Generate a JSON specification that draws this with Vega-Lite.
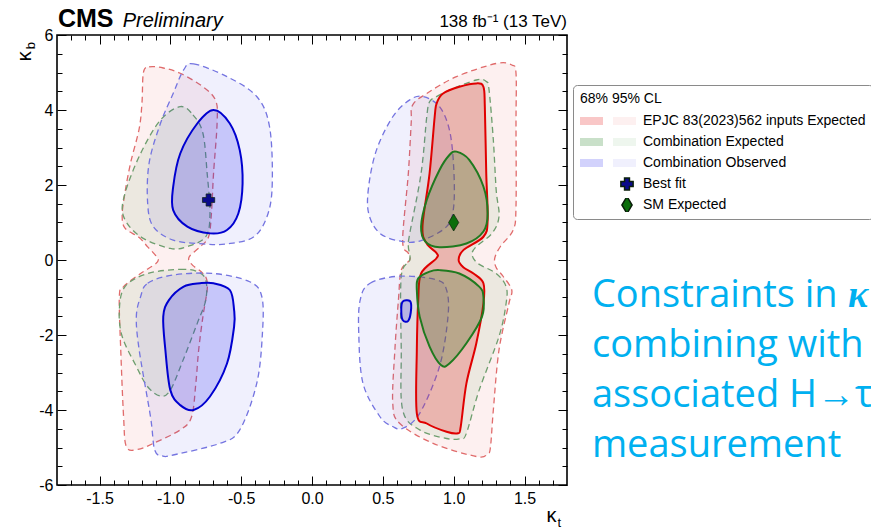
{
  "$schema": "https://vega.github.io/schema/vega-lite/v6.json",
  "width": 510,
  "height": 450,
  "autosize": {"type": "none"},
  "padding": {"left": 57, "top": 35, "right": 304, "bottom": 47},
  "background": "white",
  "config": {
    "view": {"stroke": "black", "strokeWidth": 1.6},
    "font": "Liberation Sans",
    "axis": {"grid": false, "domain": false, "labelFont": "Liberation Sans", "labelFontSize": 16, "labelColor": "black", "tickColor": "black", "tickWidth": 1, "labelFlush": false, "labelOverlap": false, "zindex": 1}
  },
  "datasets": {
    "c95": [
      {"p":"R95L","s":"R","i":1,"kt":-1.19,"kb":5.0},{"p":"R95L","s":"R","i":2,"kt":-1.15,"kb":5.15},{"p":"R95L","s":"R","i":3,"kt":-1.05,"kb":5.12},{"p":"R95L","s":"R","i":4,"kt":-0.93,"kb":4.98},{"p":"R95L","s":"R","i":5,"kt":-0.77,"kb":4.62},{"p":"R95L","s":"R","i":6,"kt":-0.68,"kb":4.25},{"p":"R95L","s":"R","i":7,"kt":-0.67,"kb":3.64},{"p":"R95L","s":"R","i":8,"kt":-0.695,"kb":2.31},{"p":"R95L","s":"R","i":9,"kt":-0.71,"kb":1.24},{"p":"R95L","s":"R","i":10,"kt":-0.73,"kb":0.62},{"p":"R95L","s":"R","i":11,"kt":-0.79,"kb":0.35},{"p":"R95L","s":"R","i":12,"kt":-0.86,"kb":0.12},{"p":"R95L","s":"R","i":13,"kt":-0.87,"kb":0.0},{"p":"R95L","s":"R","i":14,"kt":-0.84,"kb":-0.15},{"p":"R95L","s":"R","i":15,"kt":-0.78,"kb":-0.32},{"p":"R95L","s":"R","i":16,"kt":-0.745,"kb":-0.5},{"p":"R95L","s":"R","i":17,"kt":-0.74,"kb":-0.8},{"p":"R95L","s":"R","i":18,"kt":-0.77,"kb":-1.51},{"p":"R95L","s":"R","i":19,"kt":-0.8,"kb":-2.4},{"p":"R95L","s":"R","i":20,"kt":-0.82,"kb":-3.29},{"p":"R95L","s":"R","i":21,"kt":-0.85,"kb":-4.18},{"p":"R95L","s":"R","i":22,"kt":-0.93,"kb":-4.53},{"p":"R95L","s":"R","i":23,"kt":-1.12,"kb":-4.89},{"p":"R95L","s":"R","i":24,"kt":-1.23,"kb":-5.05},{"p":"R95L","s":"R","i":25,"kt":-1.31,"kb":-4.98},{"p":"R95L","s":"R","i":26,"kt":-1.33,"kb":-4.18},{"p":"R95L","s":"R","i":27,"kt":-1.35,"kb":-2.4},{"p":"R95L","s":"R","i":28,"kt":-1.36,"kb":-0.98},{"p":"R95L","s":"R","i":29,"kt":-1.33,"kb":-0.71},{"p":"R95L","s":"R","i":30,"kt":-1.21,"kb":-0.36},{"p":"R95L","s":"R","i":31,"kt":-1.11,"kb":-0.12},{"p":"R95L","s":"R","i":32,"kt":-1.085,"kb":0.0},{"p":"R95L","s":"R","i":33,"kt":-1.11,"kb":0.15},{"p":"R95L","s":"R","i":34,"kt":-1.16,"kb":0.35},{"p":"R95L","s":"R","i":35,"kt":-1.22,"kb":0.6},{"p":"R95L","s":"R","i":36,"kt":-1.32,"kb":0.85},{"p":"R95L","s":"R","i":37,"kt":-1.34,"kb":1.2},{"p":"R95L","s":"R","i":38,"kt":-1.32,"kb":1.8},{"p":"R95L","s":"R","i":39,"kt":-1.28,"kb":2.6},{"p":"R95L","s":"R","i":40,"kt":-1.22,"kb":3.5},{"p":"R95L","s":"R","i":41,"kt":-1.2,"kb":4.2},
      {"p":"R95R","s":"R","i":1,"kt":0.71,"kb":4.13},{"p":"R95R","s":"R","i":2,"kt":0.81,"kb":4.44},{"p":"R95R","s":"R","i":3,"kt":1.02,"kb":4.89},{"p":"R95R","s":"R","i":4,"kt":1.3,"kb":5.24},{"p":"R95R","s":"R","i":5,"kt":1.41,"kb":5.2},{"p":"R95R","s":"R","i":6,"kt":1.44,"kb":4.98},{"p":"R95R","s":"R","i":7,"kt":1.44,"kb":3.64},{"p":"R95R","s":"R","i":8,"kt":1.44,"kb":1.42},{"p":"R95R","s":"R","i":9,"kt":1.42,"kb":0.8},{"p":"R95R","s":"R","i":10,"kt":1.33,"kb":0.36},{"p":"R95R","s":"R","i":11,"kt":1.29,"kb":0.05},{"p":"R95R","s":"R","i":12,"kt":1.3,"kb":-0.2},{"p":"R95R","s":"R","i":13,"kt":1.35,"kb":-0.44},{"p":"R95R","s":"R","i":14,"kt":1.41,"kb":-0.8},{"p":"R95R","s":"R","i":15,"kt":1.39,"kb":-1.16},{"p":"R95R","s":"R","i":16,"kt":1.32,"kb":-2.4},{"p":"R95R","s":"R","i":17,"kt":1.28,"kb":-4.0},{"p":"R95R","s":"R","i":18,"kt":1.26,"kb":-4.98},{"p":"R95R","s":"R","i":19,"kt":1.24,"kb":-5.17},{"p":"R95R","s":"R","i":20,"kt":1.16,"kb":-5.24},{"p":"R95R","s":"R","i":21,"kt":0.855,"kb":-4.89},{"p":"R95R","s":"R","i":22,"kt":0.62,"kb":-4.36},{"p":"R95R","s":"R","i":23,"kt":0.57,"kb":-3.82},{"p":"R95R","s":"R","i":24,"kt":0.585,"kb":-2.4},{"p":"R95R","s":"R","i":25,"kt":0.61,"kb":-1.07},{"p":"R95R","s":"R","i":26,"kt":0.63,"kb":-0.27},{"p":"R95R","s":"R","i":27,"kt":0.69,"kb":0.0},{"p":"R95R","s":"R","i":28,"kt":0.68,"kb":0.18},{"p":"R95R","s":"R","i":29,"kt":0.64,"kb":0.53},{"p":"R95R","s":"R","i":30,"kt":0.68,"kb":2.31},{"p":"R95R","s":"R","i":31,"kt":0.7,"kb":3.64},
      {"p":"G95Lt","s":"G","i":1,"kt":-0.93,"kb":4.09},{"p":"G95Lt","s":"G","i":2,"kt":-0.84,"kb":3.87},{"p":"G95Lt","s":"G","i":3,"kt":-0.77,"kb":3.38},{"p":"G95Lt","s":"G","i":4,"kt":-0.74,"kb":2.31},{"p":"G95Lt","s":"G","i":5,"kt":-0.72,"kb":1.24},{"p":"G95Lt","s":"G","i":6,"kt":-0.75,"kb":0.62},{"p":"G95Lt","s":"G","i":7,"kt":-0.88,"kb":0.36},{"p":"G95Lt","s":"G","i":8,"kt":-1.0,"kb":0.31},{"p":"G95Lt","s":"G","i":9,"kt":-1.21,"kb":0.62},{"p":"G95Lt","s":"G","i":10,"kt":-1.33,"kb":1.16},{"p":"G95Lt","s":"G","i":11,"kt":-1.32,"kb":1.78},{"p":"G95Lt","s":"G","i":12,"kt":-1.21,"kb":2.84},{"p":"G95Lt","s":"G","i":13,"kt":-1.07,"kb":3.73},
      {"p":"G95Lb","s":"G","i":1,"kt":-1.16,"kb":-0.36},{"p":"G95Lb","s":"G","i":2,"kt":-0.93,"kb":-0.25},{"p":"G95Lb","s":"G","i":3,"kt":-0.81,"kb":-0.31},{"p":"G95Lb","s":"G","i":4,"kt":-0.75,"kb":-0.53},{"p":"G95Lb","s":"G","i":5,"kt":-0.75,"kb":-1.07},{"p":"G95Lb","s":"G","i":6,"kt":-0.81,"kb":-1.69},{"p":"G95Lb","s":"G","i":7,"kt":-0.91,"kb":-2.67},{"p":"G95Lb","s":"G","i":8,"kt":-1.0,"kb":-3.47},{"p":"G95Lb","s":"G","i":9,"kt":-1.07,"kb":-3.63},{"p":"G95Lb","s":"G","i":10,"kt":-1.16,"kb":-3.38},{"p":"G95Lb","s":"G","i":11,"kt":-1.24,"kb":-2.84},{"p":"G95Lb","s":"G","i":12,"kt":-1.34,"kb":-2.04},{"p":"G95Lb","s":"G","i":13,"kt":-1.36,"kb":-1.33},{"p":"G95Lb","s":"G","i":14,"kt":-1.32,"kb":-0.71},
      {"p":"G95R","s":"G","i":1,"kt":0.83,"kb":4.22},{"p":"G95R","s":"G","i":2,"kt":0.88,"kb":4.36},{"p":"G95R","s":"G","i":3,"kt":0.97,"kb":4.53},{"p":"G95R","s":"G","i":4,"kt":1.16,"kb":4.8},{"p":"G95R","s":"G","i":5,"kt":1.23,"kb":4.76},{"p":"G95R","s":"G","i":6,"kt":1.25,"kb":4.53},{"p":"G95R","s":"G","i":7,"kt":1.28,"kb":3.2},{"p":"G95R","s":"G","i":8,"kt":1.3,"kb":1.87},{"p":"G95R","s":"G","i":9,"kt":1.32,"kb":1.16},{"p":"G95R","s":"G","i":10,"kt":1.27,"kb":0.71},{"p":"G95R","s":"G","i":11,"kt":1.16,"kb":0.36},{"p":"G95R","s":"G","i":12,"kt":1.13,"kb":0.15},{"p":"G95R","s":"G","i":13,"kt":1.17,"kb":-0.09},{"p":"G95R","s":"G","i":14,"kt":1.3,"kb":-0.36},{"p":"G95R","s":"G","i":15,"kt":1.37,"kb":-0.71},{"p":"G95R","s":"G","i":16,"kt":1.37,"kb":-1.16},{"p":"G95R","s":"G","i":17,"kt":1.32,"kb":-2.04},{"p":"G95R","s":"G","i":18,"kt":1.18,"kb":-3.47},{"p":"G95R","s":"G","i":19,"kt":1.09,"kb":-4.62},{"p":"G95R","s":"G","i":20,"kt":1.05,"kb":-4.76},{"p":"G95R","s":"G","i":21,"kt":0.95,"kb":-4.76},{"p":"G95R","s":"G","i":22,"kt":0.76,"kb":-4.53},{"p":"G95R","s":"G","i":23,"kt":0.64,"kb":-4.0},{"p":"G95R","s":"G","i":24,"kt":0.63,"kb":-2.4},{"p":"G95R","s":"G","i":25,"kt":0.63,"kb":-0.44},{"p":"G95R","s":"G","i":26,"kt":0.69,"kb":0.0},{"p":"G95R","s":"G","i":27,"kt":0.68,"kb":0.36},{"p":"G95R","s":"G","i":28,"kt":0.69,"kb":0.71},{"p":"G95R","s":"G","i":29,"kt":0.77,"kb":2.31},{"p":"G95R","s":"G","i":30,"kt":0.81,"kb":3.82},
      {"p":"B95Lt","s":"B","i":1,"kt":-0.906,"kb":5.07},{"p":"B95Lt","s":"B","i":2,"kt":-0.836,"kb":5.23},{"p":"B95Lt","s":"B","i":3,"kt":-0.6,"kb":4.89},{"p":"B95Lt","s":"B","i":4,"kt":-0.39,"kb":4.36},{"p":"B95Lt","s":"B","i":5,"kt":-0.3,"kb":3.56},{"p":"B95Lt","s":"B","i":6,"kt":-0.28,"kb":2.13},{"p":"B95Lt","s":"B","i":7,"kt":-0.31,"kb":1.24},{"p":"B95Lt","s":"B","i":8,"kt":-0.41,"kb":0.62},{"p":"B95Lt","s":"B","i":9,"kt":-0.6,"kb":0.43},{"p":"B95Lt","s":"B","i":10,"kt":-0.77,"kb":0.43},{"p":"B95Lt","s":"B","i":11,"kt":-0.98,"kb":0.53},{"p":"B95Lt","s":"B","i":12,"kt":-1.12,"kb":0.89},{"p":"B95Lt","s":"B","i":13,"kt":-1.16,"kb":1.51},{"p":"B95Lt","s":"B","i":14,"kt":-1.15,"kb":2.58},{"p":"B95Lt","s":"B","i":15,"kt":-1.07,"kb":3.64},{"p":"B95Lt","s":"B","i":16,"kt":-0.98,"kb":4.44},
      {"p":"B95Lb","s":"B","i":1,"kt":-1.21,"kb":-0.98},{"p":"B95Lb","s":"B","i":2,"kt":-1.16,"kb":-0.62},{"p":"B95Lb","s":"B","i":3,"kt":-0.98,"kb":-0.4},{"p":"B95Lb","s":"B","i":4,"kt":-0.695,"kb":-0.36},{"p":"B95Lb","s":"B","i":5,"kt":-0.44,"kb":-0.58},{"p":"B95Lb","s":"B","i":6,"kt":-0.354,"kb":-0.98},{"p":"B95Lb","s":"B","i":7,"kt":-0.35,"kb":-1.96},{"p":"B95Lb","s":"B","i":8,"kt":-0.39,"kb":-3.29},{"p":"B95Lb","s":"B","i":9,"kt":-0.51,"kb":-4.53},{"p":"B95Lb","s":"B","i":10,"kt":-0.65,"kb":-4.89},{"p":"B95Lb","s":"B","i":11,"kt":-0.98,"kb":-5.2},{"p":"B95Lb","s":"B","i":12,"kt":-1.05,"kb":-5.23},{"p":"B95Lb","s":"B","i":13,"kt":-1.11,"kb":-5.07},{"p":"B95Lb","s":"B","i":14,"kt":-1.14,"kb":-4.18},{"p":"B95Lb","s":"B","i":15,"kt":-1.22,"kb":-2.4},{"p":"B95Lb","s":"B","i":16,"kt":-1.24,"kb":-1.51},
      {"p":"B95Rt","s":"B","i":1,"kt":0.784,"kb":4.36},{"p":"B95Rt","s":"B","i":2,"kt":0.9,"kb":4.09},{"p":"B95Rt","s":"B","i":3,"kt":0.97,"kb":3.47},{"p":"B95Rt","s":"B","i":4,"kt":1.0,"kb":2.49},{"p":"B95Rt","s":"B","i":5,"kt":1.0,"kb":1.42},{"p":"B95Rt","s":"B","i":6,"kt":0.95,"kb":0.89},{"p":"B95Rt","s":"B","i":7,"kt":0.78,"kb":0.53},{"p":"B95Rt","s":"B","i":8,"kt":0.64,"kb":0.49},{"p":"B95Rt","s":"B","i":9,"kt":0.48,"kb":0.71},{"p":"B95Rt","s":"B","i":10,"kt":0.4,"kb":1.24},{"p":"B95Rt","s":"B","i":11,"kt":0.4,"kb":1.96},{"p":"B95Rt","s":"B","i":12,"kt":0.455,"kb":2.93},{"p":"B95Rt","s":"B","i":13,"kt":0.57,"kb":3.82},{"p":"B95Rt","s":"B","i":14,"kt":0.69,"kb":4.27},
      {"p":"B95Rb","s":"B","i":1,"kt":0.34,"kb":-1.07},{"p":"B95Rb","s":"B","i":2,"kt":0.41,"kb":-0.62},{"p":"B95Rb","s":"B","i":3,"kt":0.62,"kb":-0.43},{"p":"B95Rb","s":"B","i":4,"kt":0.88,"kb":-0.53},{"p":"B95Rb","s":"B","i":5,"kt":0.95,"kb":-0.8},{"p":"B95Rb","s":"B","i":6,"kt":0.96,"kb":-1.51},{"p":"B95Rb","s":"B","i":7,"kt":0.9,"kb":-2.84},{"p":"B95Rb","s":"B","i":8,"kt":0.76,"kb":-4.09},{"p":"B95Rb","s":"B","i":9,"kt":0.64,"kb":-4.49},{"p":"B95Rb","s":"B","i":10,"kt":0.57,"kb":-4.44},{"p":"B95Rb","s":"B","i":11,"kt":0.48,"kb":-4.18},{"p":"B95Rb","s":"B","i":12,"kt":0.36,"kb":-3.29},{"p":"B95Rb","s":"B","i":13,"kt":0.33,"kb":-1.96}
    ],
    "c68": [
      {"p":"R68R","s":"R","i":1,"kt":0.88,"kb":4.18},{"p":"R68R","s":"R","i":2,"kt":0.925,"kb":4.44},{"p":"R68R","s":"R","i":3,"kt":1.04,"kb":4.62},{"p":"R68R","s":"R","i":4,"kt":1.16,"kb":4.71},{"p":"R68R","s":"R","i":5,"kt":1.21,"kb":4.62},{"p":"R68R","s":"R","i":6,"kt":1.22,"kb":4.09},{"p":"R68R","s":"R","i":7,"kt":1.23,"kb":2.31},{"p":"R68R","s":"R","i":8,"kt":1.24,"kb":1.07},{"p":"R68R","s":"R","i":9,"kt":1.21,"kb":0.62},{"p":"R68R","s":"R","i":10,"kt":1.07,"kb":0.27},{"p":"R68R","s":"R","i":11,"kt":1.035,"kb":0.0},{"p":"R68R","s":"R","i":12,"kt":1.07,"kb":-0.2},{"p":"R68R","s":"R","i":13,"kt":1.14,"kb":-0.36},{"p":"R68R","s":"R","i":14,"kt":1.21,"kb":-0.62},{"p":"R68R","s":"R","i":15,"kt":1.21,"kb":-1.16},{"p":"R68R","s":"R","i":16,"kt":1.16,"kb":-2.22},{"p":"R68R","s":"R","i":17,"kt":1.09,"kb":-3.29},{"p":"R68R","s":"R","i":18,"kt":1.05,"kb":-4.44},{"p":"R68R","s":"R","i":19,"kt":1.03,"kb":-4.62},{"p":"R68R","s":"R","i":20,"kt":0.95,"kb":-4.58},{"p":"R68R","s":"R","i":21,"kt":0.81,"kb":-4.36},{"p":"R68R","s":"R","i":22,"kt":0.74,"kb":-4.09},{"p":"R68R","s":"R","i":23,"kt":0.74,"kb":-2.4},{"p":"R68R","s":"R","i":24,"kt":0.75,"kb":-1.07},{"p":"R68R","s":"R","i":25,"kt":0.77,"kb":-0.36},{"p":"R68R","s":"R","i":26,"kt":0.877,"kb":0.04},{"p":"R68R","s":"R","i":27,"kt":0.88,"kb":0.18},{"p":"R68R","s":"R","i":28,"kt":0.81,"kb":0.44},{"p":"R68R","s":"R","i":29,"kt":0.78,"kb":0.89},{"p":"R68R","s":"R","i":30,"kt":0.83,"kb":2.31},{"p":"R68R","s":"R","i":31,"kt":0.866,"kb":3.82},
      {"p":"G68Rt","s":"G","i":1,"kt":1.02,"kb":2.89},{"p":"G68Rt","s":"G","i":2,"kt":1.11,"kb":2.67},{"p":"G68Rt","s":"G","i":3,"kt":1.21,"kb":1.96},{"p":"G68Rt","s":"G","i":4,"kt":1.24,"kb":1.24},{"p":"G68Rt","s":"G","i":5,"kt":1.21,"kb":0.76},{"p":"G68Rt","s":"G","i":6,"kt":1.09,"kb":0.44},{"p":"G68Rt","s":"G","i":7,"kt":0.9,"kb":0.34},{"p":"G68Rt","s":"G","i":8,"kt":0.8,"kb":0.49},{"p":"G68Rt","s":"G","i":9,"kt":0.77,"kb":0.89},{"p":"G68Rt","s":"G","i":10,"kt":0.81,"kb":1.6},{"p":"G68Rt","s":"G","i":11,"kt":0.9,"kb":2.4},{"p":"G68Rt","s":"G","i":12,"kt":0.97,"kb":2.8},
      {"p":"G68Rb","s":"G","i":1,"kt":0.75,"kb":-0.49},{"p":"G68Rb","s":"G","i":2,"kt":0.83,"kb":-0.31},{"p":"G68Rb","s":"G","i":3,"kt":0.9,"kb":-0.27},{"p":"G68Rb","s":"G","i":4,"kt":1.04,"kb":-0.36},{"p":"G68Rb","s":"G","i":5,"kt":1.18,"kb":-0.71},{"p":"G68Rb","s":"G","i":6,"kt":1.21,"kb":-0.98},{"p":"G68Rb","s":"G","i":7,"kt":1.2,"kb":-1.51},{"p":"G68Rb","s":"G","i":8,"kt":1.09,"kb":-2.22},{"p":"G68Rb","s":"G","i":9,"kt":0.97,"kb":-2.76},{"p":"G68Rb","s":"G","i":10,"kt":0.91,"kb":-2.8},{"p":"G68Rb","s":"G","i":11,"kt":0.83,"kb":-2.31},{"p":"G68Rb","s":"G","i":12,"kt":0.76,"kb":-1.51},{"p":"G68Rb","s":"G","i":13,"kt":0.74,"kb":-0.8},
      {"p":"B68Lt","s":"B","i":1,"kt":-0.695,"kb":4.0},{"p":"B68Lt","s":"B","i":2,"kt":-0.58,"kb":3.64},{"p":"B68Lt","s":"B","i":3,"kt":-0.51,"kb":2.93},{"p":"B68Lt","s":"B","i":4,"kt":-0.49,"kb":2.04},{"p":"B68Lt","s":"B","i":5,"kt":-0.52,"kb":1.24},{"p":"B68Lt","s":"B","i":6,"kt":-0.6,"kb":0.8},{"p":"B68Lt","s":"B","i":7,"kt":-0.72,"kb":0.71},{"p":"B68Lt","s":"B","i":8,"kt":-0.88,"kb":0.89},{"p":"B68Lt","s":"B","i":9,"kt":-0.98,"kb":1.33},{"p":"B68Lt","s":"B","i":10,"kt":-0.98,"kb":1.95},{"p":"B68Lt","s":"B","i":11,"kt":-0.93,"kb":2.84},{"p":"B68Lt","s":"B","i":12,"kt":-0.81,"kb":3.64},
      {"p":"B68Lb","s":"B","i":1,"kt":-0.695,"kb":-0.62},{"p":"B68Lb","s":"B","i":2,"kt":-0.58,"kb":-0.8},{"p":"B68Lb","s":"B","i":3,"kt":-0.55,"kb":-1.33},{"p":"B68Lb","s":"B","i":4,"kt":-0.55,"kb":-1.78},{"p":"B68Lb","s":"B","i":5,"kt":-0.6,"kb":-2.76},{"p":"B68Lb","s":"B","i":6,"kt":-0.72,"kb":-3.64},{"p":"B68Lb","s":"B","i":7,"kt":-0.836,"kb":-4.0},{"p":"B68Lb","s":"B","i":8,"kt":-0.93,"kb":-3.87},{"p":"B68Lb","s":"B","i":9,"kt":-1.0,"kb":-3.47},{"p":"B68Lb","s":"B","i":10,"kt":-1.035,"kb":-2.4},{"p":"B68Lb","s":"B","i":11,"kt":-1.05,"kb":-1.51},{"p":"B68Lb","s":"B","i":12,"kt":-1.01,"kb":-1.07},{"p":"B68Lb","s":"B","i":13,"kt":-0.906,"kb":-0.71},{"p":"B68Lb","s":"B","i":14,"kt":-0.79,"kb":-0.62},
      {"p":"B68Rs","s":"B","i":1,"kt":0.64,"kb":-1.11},{"p":"B68Rs","s":"B","i":2,"kt":0.69,"kb":-1.09},{"p":"B68Rs","s":"B","i":3,"kt":0.7,"kb":-1.29},{"p":"B68Rs","s":"B","i":4,"kt":0.68,"kb":-1.62},{"p":"B68Rs","s":"B","i":5,"kt":0.64,"kb":-1.6},{"p":"B68Rs","s":"B","i":6,"kt":0.63,"kb":-1.33}
    ],
    "pts": [
      {"pt":"F","kt":-0.73,"kb":1.6},
      {"pt":"S","kt":1.0,"kb":1.0}
    ]
  },
  "layer": [
    {
      "data": {"name": "c95"},
      "mark": {"type": "line", "interpolate": "cardinal-closed", "strokeDash": [6, 4], "strokeWidth": 1.3},
      "encoding": {
        "x": {"field": "kt", "type": "quantitative", "scale": {"domain": [-1.8, 1.8], "nice": false, "zero": false},
              "axis": {"orient": "bottom", "title": null, "values": [-1.5, -1, -0.5, 0, 0.5, 1, 1.5], "tickSize": -9, "labelPadding": 14,
                       "labelExpr": "datum.value < 0 ? '-' + format(-datum.value, '.1f') : format(datum.value, '.1f')"}},
        "y": {"field": "kb", "type": "quantitative", "scale": {"domain": [-6, 6], "nice": false, "zero": false},
              "axis": {"orient": "left", "title": null, "values": [-6, -4, -2, 0, 2, 4, 6], "tickSize": -9, "labelPadding": 13,
                       "labelExpr": "datum.value < 0 ? '-' + format(-datum.value, 'd') : format(datum.value, 'd')"}},
        "detail": {"field": "p", "type": "nominal"},
        "order": {"field": "i", "type": "quantitative"},
        "fill": {"field": "s", "type": "nominal",
                 "scale": {"domain": ["R", "G", "B"], "range": ["rgba(235,60,60,0.08)", "rgba(40,140,40,0.08)", "rgba(70,70,235,0.08)"]},
                 "legend": {"orient": "none", "legendX": 556, "legendY": 79, "direction": "vertical", "title": null,
                            "symbolType": "M-1,-0.35H1V0.35H-1Z", "symbolSize": 529, "symbolStrokeWidth": 0,
                            "labelExpr": "''", "clipHeight": 14, "rowPadding": 7, "padding": 0}},
        "stroke": {"field": "s", "type": "nominal",
                   "scale": {"domain": ["R", "G", "B"], "range": ["#e06b6b", "#6e9e6e", "#7474e0"]}, "legend": null}
      }
    },
    {
      "data": {"name": "c68"},
      "mark": {"type": "line", "interpolate": "cardinal-closed", "strokeWidth": 2},
      "encoding": {
        "x": {"field": "kt", "type": "quantitative",
              "axis": {"orient": "top", "title": null, "labels": false, "values": [-1.5, -1, -0.5, 0, 0.5, 1, 1.5], "tickSize": -9}},
        "y": {"field": "kb", "type": "quantitative",
              "axis": {"orient": "right", "title": null, "labels": false, "values": [-6, -4, -2, 0, 2, 4, 6], "tickSize": -9}},
        "detail": {"field": "p", "type": "nominal"},
        "order": {"field": "i", "type": "quantitative"},
        "fill": {"field": "s", "type": "nominal",
                 "scale": {"domain": ["R", "G", "B", "F", "S"], "range": ["rgba(230,20,20,0.24)", "rgba(20,120,20,0.23)", "rgba(30,30,240,0.2)", "rgba(0,0,0,0)", "rgba(0,0,0,0)"]},
                 "legend": {"orient": "none", "legendX": 516, "legendY": 50, "direction": "vertical",
                            "title": "68% 95% CL", "titleFontSize": 14, "titleFontWeight": "normal", "titleColor": "black", "titleFont": "Liberation Sans", "titlePadding": 8,
                            "symbolType": "M-1,-0.35H1V0.35H-1Z", "symbolSize": 529, "symbolStrokeWidth": 0,
                            "labelFontSize": 14, "labelFont": "Liberation Sans", "labelColor": "black", "labelOffset": 40, "labelLimit": 400,
                            "labelExpr": "datum.label == 'R' ? 'EPJC 83(2023)562 inputs Expected\u2003\u2003\u2003' : datum.label == 'G' ? 'Combination Expected' : datum.label == 'B' ? 'Combination Observed' : datum.label == 'F' ? 'Best fit' : 'SM Expected'",
                            "clipHeight": 14, "rowPadding": 7, "padding": 7, "strokeColor": "#8a8a8a", "cornerRadius": 4}},
        "stroke": {"field": "s", "type": "nominal",
                   "scale": {"domain": ["R", "G", "B"], "range": ["#e00000", "#1f7a1f", "#0000d0"]}, "legend": null}
      }
    },
    {
      "data": {"name": "pts"},
      "mark": {"type": "point", "filled": true, "opacity": 1, "stroke": "#0a1f0a", "strokeWidth": 0.7},
      "encoding": {
        "x": {"field": "kt", "type": "quantitative",
              "axis": {"orient": "bottom", "title": null, "labels": false, "tickSize": -5,
                       "values": [-1.7,-1.6,-1.4,-1.3,-1.2,-1.1,-0.9,-0.8,-0.7,-0.6,-0.4,-0.3,-0.2,-0.1,0.1,0.2,0.3,0.4,0.6,0.7,0.8,0.9,1.1,1.2,1.3,1.4,1.6,1.7]}},
        "y": {"field": "kb", "type": "quantitative",
              "axis": {"orient": "left", "title": null, "labels": false, "tickSize": -5,
                       "values": [-5.5,-5,-4.5,-3.5,-3,-2.5,-1.5,-1,-0.5,0.5,1,1.5,2.5,3,3.5,4.5,5,5.5]}},
        "shape": {"field": "pt", "type": "nominal",
                  "scale": {"domain": ["F", "S"], "range": ["cross", "M0,-1L0.6,0L0,1L-0.6,0Z"]},
                  "legend": {"orient": "none", "legendX": 560.5, "legendY": 142, "direction": "vertical", "title": null, "labelExpr": "''",
                             "clipHeight": 14, "rowPadding": 7, "padding": 0, "symbolSize": 90}},
        "color": {"field": "pt", "type": "nominal",
                  "scale": {"domain": ["F", "S"], "range": ["#0a0a8c", "#0b6e0b"]},
                  "legend": {"orient": "none", "legendX": 560.5, "legendY": 142, "direction": "vertical", "title": null, "labelExpr": "''",
                             "clipHeight": 14, "rowPadding": 7, "padding": 0, "symbolSize": 90}},
        "size": {"field": "pt", "type": "nominal", "scale": {"domain": ["F", "S"], "range": [150, 289]}, "legend": null}
      }
    },
    {
      "data": {"name": "pts"},
      "mark": {"type": "point", "opacity": 0},
      "encoding": {
        "x": {"field": "kt", "type": "quantitative",
              "axis": {"orient": "top", "title": null, "labels": false, "tickSize": -5,
                       "values": [-1.7,-1.6,-1.4,-1.3,-1.2,-1.1,-0.9,-0.8,-0.7,-0.6,-0.4,-0.3,-0.2,-0.1,0.1,0.2,0.3,0.4,0.6,0.7,0.8,0.9,1.1,1.2,1.3,1.4,1.6,1.7]}},
        "y": {"field": "kb", "type": "quantitative",
              "axis": {"orient": "right", "title": null, "labels": false, "tickSize": -5,
                       "values": [-5.5,-5,-4.5,-3.5,-3,-2.5,-1.5,-1,-0.5,0.5,1,1.5,2.5,3,3.5,4.5,5,5.5]}}
      }
    },
    {
      "data": {"values": [{}]},
      "mark": {"type": "text", "text": "CMS", "font": "Liberation Sans", "fontSize": 25, "fontWeight": "bold", "align": "left", "baseline": "alphabetic", "color": "black"},
      "encoding": {"x": {"datum": -1.793, "type": "quantitative", "axis": null}, "y": {"datum": 6.213, "type": "quantitative", "axis": null}}
    },
    {
      "data": {"values": [{}]},
      "mark": {"type": "text", "text": "Preliminary", "font": "Liberation Sans", "fontSize": 20, "fontStyle": "italic", "align": "left", "baseline": "alphabetic", "color": "black"},
      "encoding": {"x": {"datum": -1.336, "type": "quantitative", "axis": null}, "y": {"datum": 6.213, "type": "quantitative", "axis": null}}
    },
    {
      "data": {"values": [{}]},
      "mark": {"type": "text", "text": "138 fb⁻¹ (13 TeV)", "font": "Liberation Sans", "fontSize": 17, "align": "right", "baseline": "alphabetic", "color": "black"},
      "encoding": {"x": {"datum": 1.8, "type": "quantitative", "axis": null}, "y": {"datum": 6.213, "type": "quantitative", "axis": null}}
    },
    {
      "data": {"values": [{}]},
      "mark": {"type": "text", "text": "κ", "font": "Liberation Sans", "fontSize": 20, "align": "right", "baseline": "alphabetic", "color": "black"},
      "encoding": {"x": {"datum": 1.725, "type": "quantitative", "axis": null}, "y": {"datum": -6.987, "type": "quantitative", "axis": null}}
    },
    {
      "data": {"values": [{}]},
      "mark": {"type": "text", "text": "t", "font": "Liberation Sans", "fontSize": 13, "align": "left", "baseline": "alphabetic", "color": "black"},
      "encoding": {"x": {"datum": 1.733, "type": "quantitative", "axis": null}, "y": {"datum": -7.12, "type": "quantitative", "axis": null}}
    },
    {
      "data": {"values": [{}]},
      "mark": {"type": "text", "text": "κ", "font": "Liberation Sans", "fontSize": 20, "angle": 270, "align": "left", "baseline": "alphabetic", "color": "black"},
      "encoding": {"x": {"datum": -1.983, "type": "quantitative", "axis": null}, "y": {"datum": 5.3, "type": "quantitative", "axis": null}}
    },
    {
      "data": {"values": [{}]},
      "mark": {"type": "text", "text": "b", "font": "Liberation Sans", "fontSize": 13, "angle": 270, "align": "left", "baseline": "alphabetic", "color": "black"},
      "encoding": {"x": {"datum": -1.955, "type": "quantitative", "axis": null}, "y": {"datum": 5.62, "type": "quantitative", "axis": null}}
    },
    {
      "data": {"values": [{}]},
      "mark": {"type": "text", "text": ["Constraints in", "combining with", "associated H→τ", "measurement"], "font": "Open Sans", "fontSize": 38, "lineHeight": 50, "align": "left", "baseline": "alphabetic", "color": "#00b0f0"},
      "encoding": {"x": {"datum": 1.976, "type": "quantitative", "axis": null}, "y": {"datum": -1.253, "type": "quantitative", "axis": null}}
    },
    {
      "data": {"values": [{}]},
      "mark": {"type": "text", "text": "κ", "font": "Liberation Serif", "fontSize": 38, "fontStyle": "italic", "fontWeight": "bold", "align": "left", "baseline": "alphabetic", "color": "#00b0f0"},
      "encoding": {"x": {"datum": 3.783, "type": "quantitative", "axis": null}, "y": {"datum": -1.253, "type": "quantitative", "axis": null}}
    }
  ],
  "resolve": {
    "scale": {"fill": "independent", "stroke": "independent"},
    "legend": {"fill": "independent"},
    "axis": {"x": "independent", "y": "independent"}
  }
}
